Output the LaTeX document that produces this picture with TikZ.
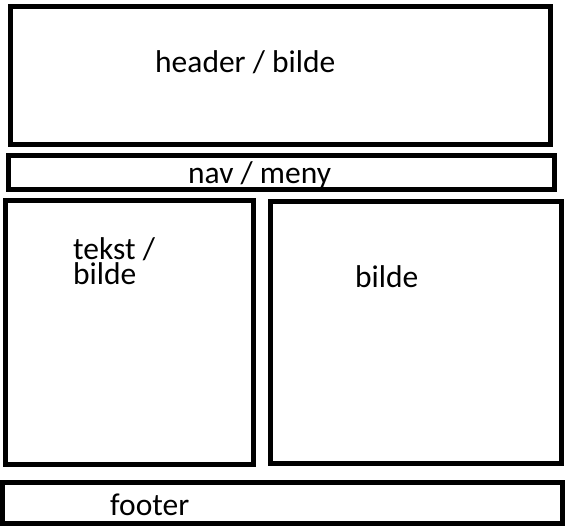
\documentclass[tikz,border=0pt]{standalone}
\usepackage{fontspec}
\setmainfont{Carlito}
\usepackage{tikz}

\begin{document}
\begin{tikzpicture}[x=1pt, y=-1pt,
    box/.style={draw=black, line width=5pt},
    label/.style={anchor=base west, inner sep=0pt, font=\fontsize{31.5}{25}\selectfont}]
    \useasboundingbox (0,0) rectangle (565,527);
    % texts
    \node[label] at (155,73) (Th) {header / bilde};
    \node[label] at (188,183) (Tn) {nav / meny};
    \node[label, anchor=north west, align=left] at (73,237) (Tl) {tekst /\\bilde};
    \node[label] at (355,287) (Tr) {bilde};
    \node[label] at (110,515) (Tf) {footer};
    % boxes
    \draw[box] (10.5,6.5) rectangle (550,144.5);
    \draw[box] (8.5,155.5) rectangle (554.5,189.5);
    \draw[box] (5.5,200.5) rectangle (253,464.5);
    \draw[box] (270.5,201.5) rectangle (561,463.5);
    \draw[box] (2.5,482.5) rectangle (562.5,523.5);
\end{tikzpicture}
\end{document}
